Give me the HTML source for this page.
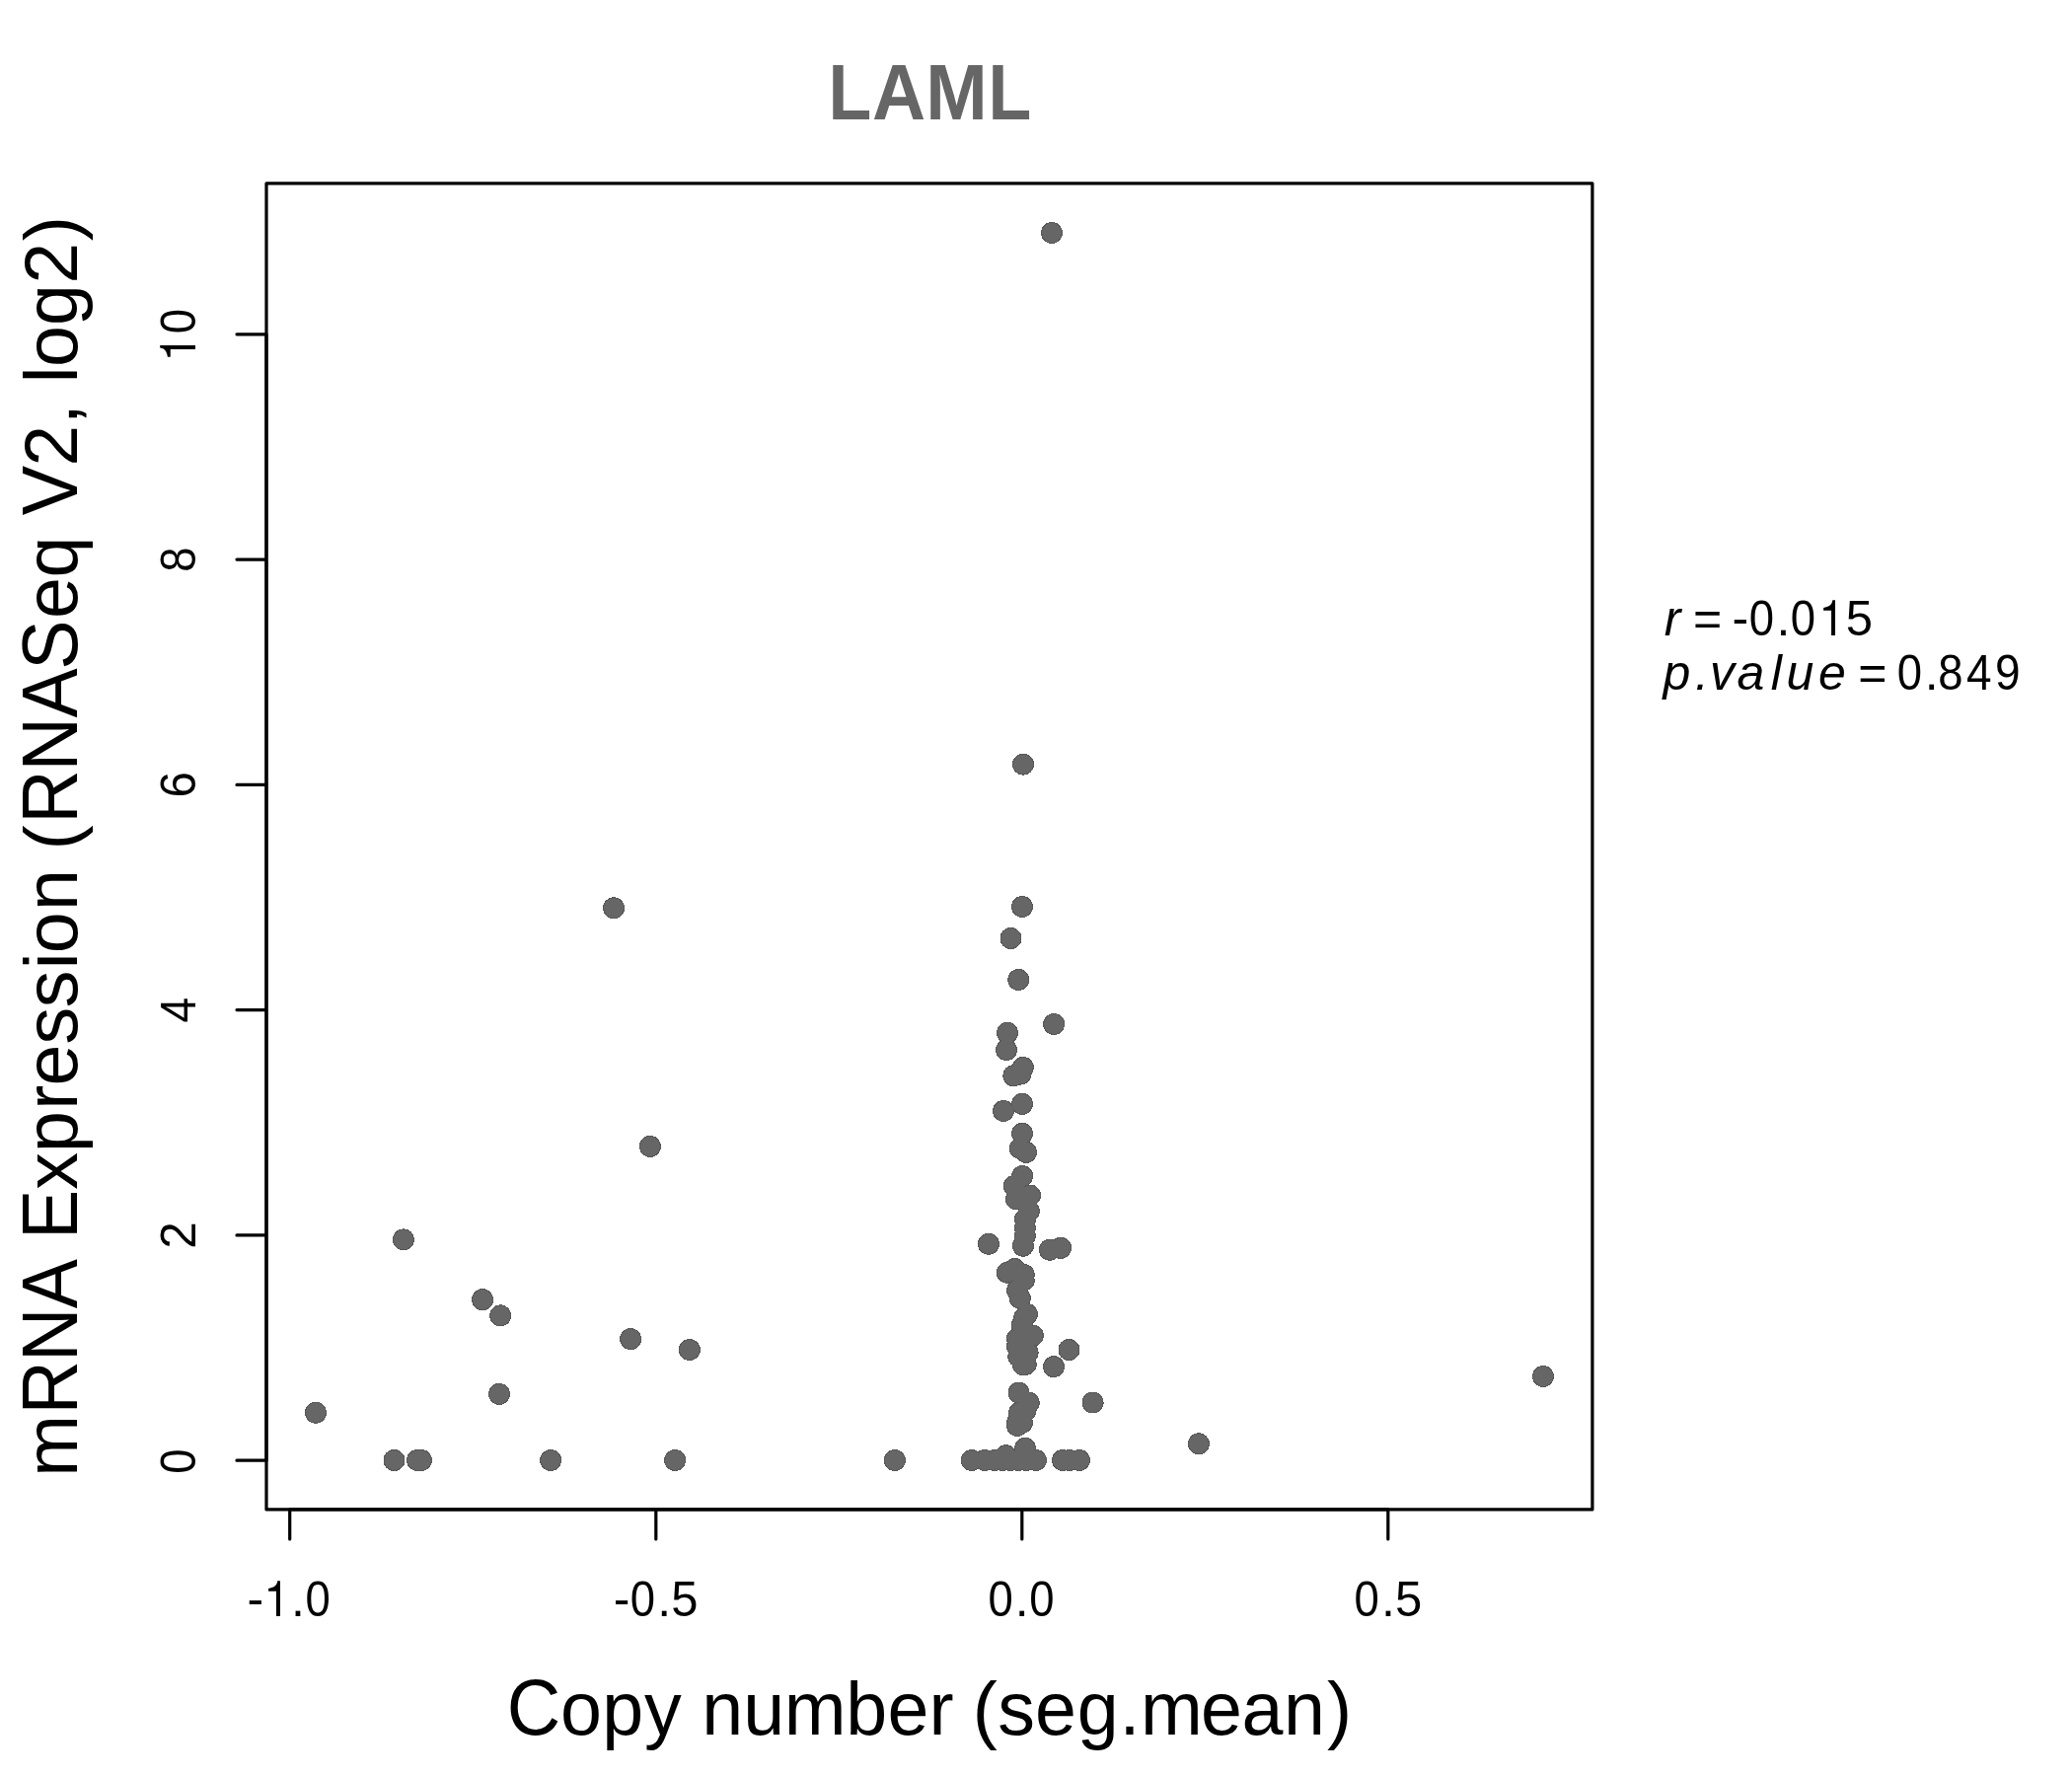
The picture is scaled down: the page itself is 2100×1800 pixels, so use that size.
<!DOCTYPE html><html><head><meta charset="utf-8"><title>LAML</title><style>html,body{margin:0;padding:0;background:#fff;overflow:hidden;}svg{display:block;will-change:transform;}text{font-family:"Liberation Sans", sans-serif;}</style></head><body>
<svg width="2100" height="1800" viewBox="0 0 2100 1800">
<rect x="0" y="0" width="2100" height="1800" fill="#fff"/>
<g fill="#595959" shape-rendering="crispEdges">
<circle cx="320.0" cy="1431.7" r="11.00"/>
<circle cx="408.9" cy="1256.4" r="11.00"/>
<circle cx="489.1" cy="1317.2" r="11.00"/>
<circle cx="507.2" cy="1333.4" r="11.00"/>
<circle cx="639.1" cy="1357.1" r="11.00"/>
<circle cx="698.9" cy="1368.0" r="11.00"/>
<circle cx="506.0" cy="1412.9" r="11.00"/>
<circle cx="399.5" cy="1480.0" r="11.00"/>
<circle cx="423.0" cy="1480.0" r="11.00"/>
<circle cx="427.0" cy="1480.0" r="11.00"/>
<circle cx="558.1" cy="1480.0" r="11.00"/>
<circle cx="684.1" cy="1480.0" r="11.00"/>
<circle cx="622.1" cy="920.3" r="11.00"/>
<circle cx="658.9" cy="1161.9" r="11.00"/>
<circle cx="1066.0" cy="236.0" r="11.00"/>
<circle cx="1037.0" cy="774.6" r="11.00"/>
<circle cx="1036.0" cy="919.0" r="11.00"/>
<circle cx="1024.5" cy="951.0" r="11.00"/>
<circle cx="1032.3" cy="993.0" r="11.00"/>
<circle cx="1068.1" cy="1038.0" r="11.00"/>
<circle cx="1021.0" cy="1046.8" r="11.00"/>
<circle cx="1020.0" cy="1064.1" r="11.00"/>
<circle cx="1036.8" cy="1081.9" r="11.00"/>
<circle cx="1027.3" cy="1090.2" r="11.00"/>
<circle cx="1036.0" cy="1118.9" r="11.00"/>
<circle cx="1017.0" cy="1126.0" r="11.00"/>
<circle cx="1036.0" cy="1148.9" r="11.00"/>
<circle cx="1033.8" cy="1163.8" r="11.00"/>
<circle cx="1040.0" cy="1167.9" r="11.00"/>
<circle cx="1036.1" cy="1192.0" r="11.00"/>
<circle cx="1027.9" cy="1202.0" r="11.00"/>
<circle cx="1044.0" cy="1211.5" r="11.00"/>
<circle cx="1029.9" cy="1215.4" r="11.00"/>
<circle cx="1042.8" cy="1227.6" r="11.00"/>
<circle cx="1038.9" cy="1235.9" r="11.00"/>
<circle cx="1038.9" cy="1244.6" r="11.00"/>
<circle cx="1038.9" cy="1252.5" r="11.00"/>
<circle cx="1036.9" cy="1262.7" r="11.00"/>
<circle cx="1001.9" cy="1260.8" r="11.00"/>
<circle cx="1063.8" cy="1266.7" r="11.00"/>
<circle cx="1075.1" cy="1264.9" r="11.00"/>
<circle cx="1020.8" cy="1289.7" r="11.00"/>
<circle cx="1028.5" cy="1286.0" r="11.00"/>
<circle cx="1037.7" cy="1291.9" r="11.00"/>
<circle cx="1037.7" cy="1297.6" r="11.00"/>
<circle cx="1031.0" cy="1307.8" r="11.00"/>
<circle cx="1033.8" cy="1315.7" r="11.00"/>
<circle cx="1041.0" cy="1332.0" r="11.00"/>
<circle cx="1038.0" cy="1336.0" r="11.00"/>
<circle cx="1035.8" cy="1343.3" r="11.00"/>
<circle cx="1046.8" cy="1353.6" r="11.00"/>
<circle cx="1031.0" cy="1356.7" r="11.00"/>
<circle cx="1031.0" cy="1364.6" r="11.00"/>
<circle cx="1041.6" cy="1370.9" r="11.00"/>
<circle cx="1032.3" cy="1374.8" r="11.00"/>
<circle cx="1039.7" cy="1382.7" r="11.00"/>
<circle cx="1036.8" cy="1383.3" r="11.00"/>
<circle cx="1083.5" cy="1368.0" r="11.00"/>
<circle cx="1068.0" cy="1385.1" r="11.00"/>
<circle cx="1032.6" cy="1411.7" r="11.00"/>
<circle cx="1042.7" cy="1421.8" r="11.00"/>
<circle cx="1039.0" cy="1430.5" r="11.00"/>
<circle cx="1031.0" cy="1442.0" r="11.00"/>
<circle cx="1033.0" cy="1432.0" r="11.00"/>
<circle cx="1034.4" cy="1088.6" r="11.00"/>
<circle cx="1036.0" cy="1442.0" r="11.00"/>
<circle cx="1031.0" cy="1445.0" r="11.00"/>
<circle cx="1039.0" cy="1467.8" r="11.00"/>
<circle cx="1019.5" cy="1475.2" r="11.00"/>
<circle cx="1107.6" cy="1421.5" r="11.00"/>
<circle cx="1214.9" cy="1463.3" r="11.00"/>
<circle cx="1564.0" cy="1395.0" r="11.00"/>
<circle cx="906.9" cy="1480.0" r="11.00"/>
<circle cx="984.8" cy="1480.0" r="11.00"/>
<circle cx="998.0" cy="1480.0" r="11.00"/>
<circle cx="1008.0" cy="1480.0" r="11.00"/>
<circle cx="1016.0" cy="1480.0" r="11.00"/>
<circle cx="1024.0" cy="1480.0" r="11.00"/>
<circle cx="1032.0" cy="1480.0" r="11.00"/>
<circle cx="1040.0" cy="1480.0" r="11.00"/>
<circle cx="1050.0" cy="1480.0" r="11.00"/>
<circle cx="1077.0" cy="1480.0" r="11.00"/>
<circle cx="1084.0" cy="1480.0" r="11.00"/>
<circle cx="1094.0" cy="1480.0" r="11.00"/>
</g>
<g fill="#666666" shape-rendering="crispEdges">
<circle cx="320.0" cy="1431.7" r="10.00"/>
<circle cx="408.9" cy="1256.4" r="10.00"/>
<circle cx="489.1" cy="1317.2" r="10.00"/>
<circle cx="507.2" cy="1333.4" r="10.00"/>
<circle cx="639.1" cy="1357.1" r="10.00"/>
<circle cx="698.9" cy="1368.0" r="10.00"/>
<circle cx="506.0" cy="1412.9" r="10.00"/>
<circle cx="399.5" cy="1480.0" r="10.00"/>
<circle cx="423.0" cy="1480.0" r="10.00"/>
<circle cx="427.0" cy="1480.0" r="10.00"/>
<circle cx="558.1" cy="1480.0" r="10.00"/>
<circle cx="684.1" cy="1480.0" r="10.00"/>
<circle cx="622.1" cy="920.3" r="10.00"/>
<circle cx="658.9" cy="1161.9" r="10.00"/>
<circle cx="1066.0" cy="236.0" r="10.00"/>
<circle cx="1037.0" cy="774.6" r="10.00"/>
<circle cx="1036.0" cy="919.0" r="10.00"/>
<circle cx="1024.5" cy="951.0" r="10.00"/>
<circle cx="1032.3" cy="993.0" r="10.00"/>
<circle cx="1068.1" cy="1038.0" r="10.00"/>
<circle cx="1021.0" cy="1046.8" r="10.00"/>
<circle cx="1020.0" cy="1064.1" r="10.00"/>
<circle cx="1036.8" cy="1081.9" r="10.00"/>
<circle cx="1027.3" cy="1090.2" r="10.00"/>
<circle cx="1036.0" cy="1118.9" r="10.00"/>
<circle cx="1017.0" cy="1126.0" r="10.00"/>
<circle cx="1036.0" cy="1148.9" r="10.00"/>
<circle cx="1033.8" cy="1163.8" r="10.00"/>
<circle cx="1040.0" cy="1167.9" r="10.00"/>
<circle cx="1036.1" cy="1192.0" r="10.00"/>
<circle cx="1027.9" cy="1202.0" r="10.00"/>
<circle cx="1044.0" cy="1211.5" r="10.00"/>
<circle cx="1029.9" cy="1215.4" r="10.00"/>
<circle cx="1042.8" cy="1227.6" r="10.00"/>
<circle cx="1038.9" cy="1235.9" r="10.00"/>
<circle cx="1038.9" cy="1244.6" r="10.00"/>
<circle cx="1038.9" cy="1252.5" r="10.00"/>
<circle cx="1036.9" cy="1262.7" r="10.00"/>
<circle cx="1001.9" cy="1260.8" r="10.00"/>
<circle cx="1063.8" cy="1266.7" r="10.00"/>
<circle cx="1075.1" cy="1264.9" r="10.00"/>
<circle cx="1020.8" cy="1289.7" r="10.00"/>
<circle cx="1028.5" cy="1286.0" r="10.00"/>
<circle cx="1037.7" cy="1291.9" r="10.00"/>
<circle cx="1037.7" cy="1297.6" r="10.00"/>
<circle cx="1031.0" cy="1307.8" r="10.00"/>
<circle cx="1033.8" cy="1315.7" r="10.00"/>
<circle cx="1041.0" cy="1332.0" r="10.00"/>
<circle cx="1038.0" cy="1336.0" r="10.00"/>
<circle cx="1035.8" cy="1343.3" r="10.00"/>
<circle cx="1046.8" cy="1353.6" r="10.00"/>
<circle cx="1031.0" cy="1356.7" r="10.00"/>
<circle cx="1031.0" cy="1364.6" r="10.00"/>
<circle cx="1041.6" cy="1370.9" r="10.00"/>
<circle cx="1032.3" cy="1374.8" r="10.00"/>
<circle cx="1039.7" cy="1382.7" r="10.00"/>
<circle cx="1036.8" cy="1383.3" r="10.00"/>
<circle cx="1083.5" cy="1368.0" r="10.00"/>
<circle cx="1068.0" cy="1385.1" r="10.00"/>
<circle cx="1032.6" cy="1411.7" r="10.00"/>
<circle cx="1042.7" cy="1421.8" r="10.00"/>
<circle cx="1039.0" cy="1430.5" r="10.00"/>
<circle cx="1031.0" cy="1442.0" r="10.00"/>
<circle cx="1033.0" cy="1432.0" r="10.00"/>
<circle cx="1034.4" cy="1088.6" r="10.00"/>
<circle cx="1036.0" cy="1442.0" r="10.00"/>
<circle cx="1031.0" cy="1445.0" r="10.00"/>
<circle cx="1039.0" cy="1467.8" r="10.00"/>
<circle cx="1019.5" cy="1475.2" r="10.00"/>
<circle cx="1107.6" cy="1421.5" r="10.00"/>
<circle cx="1214.9" cy="1463.3" r="10.00"/>
<circle cx="1564.0" cy="1395.0" r="10.00"/>
<circle cx="906.9" cy="1480.0" r="10.00"/>
<circle cx="984.8" cy="1480.0" r="10.00"/>
<circle cx="998.0" cy="1480.0" r="10.00"/>
<circle cx="1008.0" cy="1480.0" r="10.00"/>
<circle cx="1016.0" cy="1480.0" r="10.00"/>
<circle cx="1024.0" cy="1480.0" r="10.00"/>
<circle cx="1032.0" cy="1480.0" r="10.00"/>
<circle cx="1040.0" cy="1480.0" r="10.00"/>
<circle cx="1050.0" cy="1480.0" r="10.00"/>
<circle cx="1077.0" cy="1480.0" r="10.00"/>
<circle cx="1084.0" cy="1480.0" r="10.00"/>
<circle cx="1094.0" cy="1480.0" r="10.00"/>
</g>
<g stroke="#000" stroke-width="3.20" fill="none" stroke-linecap="round" stroke-linejoin="round">
<rect x="270.0" y="185.8" width="1343.9" height="1344.1"/>
<path d="M293.7 1529.9H1406.8 M293.7 1529.9V1559.9 M664.8 1529.9V1559.9 M1035.8 1529.9V1559.9 M1406.8 1529.9V1559.9"/>
<path d="M270.0 1480.2V338.8 M270.0 1480.2H240.0 M270.0 1251.9H240.0 M270.0 1023.6H240.0 M270.0 795.4H240.0 M270.0 567.1H240.0 M270.0 338.8H240.0"/>
</g>
<g font-size="50" fill="#000">
<g transform="translate(0 1638)"><text transform="translate(250.62 -0.70)">-</text><path transform="translate(267.27 0) scale(1.0000)" d="M12.72 0H16.66V-35.8H14C13.5 -33 12.8 -31.3 10.3 -29.8C8.6 -28.9 6.5 -28.3 4.8 -28.1V-25.3H12.72Z"/><text transform="translate(295.08 0)">.</text><text transform="translate(322.07 0) scale(0.910 1.012)" text-anchor="middle">0</text></g>
<g transform="translate(0 1638)"><text transform="translate(621.67 -0.70)">-</text><text transform="translate(651.43 0) scale(0.910 1.012)" text-anchor="middle">0</text><text transform="translate(666.13 0)">.</text><text transform="translate(693.92 0) scale(0.980 1.012)" text-anchor="middle">5</text></g>
<g transform="translate(0 1638)"><text transform="translate(1014.15 0) scale(0.910 1.012)" text-anchor="middle">0</text><text transform="translate(1028.85 0)">.</text><text transform="translate(1055.85 0) scale(0.910 1.012)" text-anchor="middle">0</text></g>
<g transform="translate(0 1638)"><text transform="translate(1385.20 0) scale(0.910 1.012)" text-anchor="middle">0</text><text transform="translate(1399.90 0)">.</text><text transform="translate(1427.70 0) scale(0.980 1.012)" text-anchor="middle">5</text></g>
<g transform="translate(198 0) rotate(-90)"><text transform="translate(-1481.00 0) scale(0.910 1.012)" text-anchor="middle">0</text></g>
<g transform="translate(198 0) rotate(-90)"><text transform="translate(-1251.92 0) scale(0.990 1.012)" text-anchor="middle">2</text></g>
<g transform="translate(198 0) rotate(-90)"><text transform="translate(-1023.64 0) scale(0.920 1.012)" text-anchor="middle">4</text></g>
<g transform="translate(198 0) rotate(-90)"><text transform="translate(-795.36 0) scale(0.950 1.012)" text-anchor="middle">6</text></g>
<g transform="translate(198 0) rotate(-90)"><text transform="translate(-567.08 0) scale(0.910 1.012)" text-anchor="middle">8</text></g>
<g transform="translate(198 0) rotate(-90)"><path transform="translate(-366.61 0) scale(1.0000)" d="M12.72 0H16.66V-35.8H14C13.5 -33 12.8 -31.3 10.3 -29.8C8.6 -28.9 6.5 -28.3 4.8 -28.1V-25.3H12.72Z"/><text transform="translate(-325.70 0) scale(0.910 1.012)" text-anchor="middle">0</text></g>
</g>
<g transform="translate(0 120.6)" font-size="75" font-weight="bold" fill="#666666"><text transform="translate(844.38 0) scale(0.955 1.065) translate(-5.02 0)">L</text><text transform="translate(883.98 0) scale(1.000 1.065) translate(-0.00 0)">A</text><text transform="translate(938.14 0) scale(1.000 1.065) translate(-0.00 0)">M</text><text transform="translate(1006.32 0) scale(0.955 1.065) translate(-5.02 0)">L</text></g>
<g transform="translate(0 1758.0)" font-size="75.4" fill="#000"><text transform="translate(513.85 0) scale(1 1.065)">C</text><text transform="translate(567.88 0)">o</text><text transform="translate(610.24 0)">p</text><text transform="translate(652.88 0)">y</text><text transform="translate(711.28 0)">n</text><text transform="translate(753.34 0)">u</text><text transform="translate(794.73 0)">m</text><text transform="translate(857.19 0)">b</text><text transform="translate(899.46 0)">e</text><text transform="translate(941.47 0)">r</text><text transform="translate(985.73 0)">(</text><text transform="translate(1011.31 0)">s</text><text transform="translate(1049.01 0)">e</text><text transform="translate(1091.73 0)">g</text><text transform="translate(1134.48 0)">.</text><text transform="translate(1156.03 0)">m</text><text transform="translate(1216.96 0)">e</text><text transform="translate(1258.48 0)">a</text><text transform="translate(1301.03 0)">n</text><text transform="translate(1345.11 0)">)</text></g>
<g transform="translate(77.9 0) rotate(-90)" font-size="75.4" fill="#000"><text transform="translate(-1496.77 0)">m</text><text transform="translate(-1433.57 0) scale(1 1.065)">R</text><text transform="translate(-1380.09 0) scale(1 1.065)">N</text><text transform="translate(-1326.30 0) scale(1 1.065)">A</text><text transform="translate(-1255.92 0) scale(1 1.065)">E</text><text transform="translate(-1205.67 0)">x</text><text transform="translate(-1168.01 0)">p</text><text transform="translate(-1124.73 0)">r</text><text transform="translate(-1100.59 0)">e</text><text transform="translate(-1058.49 0)">s</text><text transform="translate(-1021.14 0)">s</text><text transform="translate(-982.26 0)">i</text><text transform="translate(-966.17 0)">o</text><text transform="translate(-923.12 0)">n</text><text transform="translate(-861.47 0)">(</text><text transform="translate(-834.72 0) scale(1 1.065)">R</text><text transform="translate(-781.39 0) scale(1 1.065)">N</text><text transform="translate(-727.45 0) scale(1 1.065)">A</text><text transform="translate(-678.63 0) scale(1 1.065)">S</text><text transform="translate(-626.99 0)">e</text><text transform="translate(-585.54 0)">q</text><text transform="translate(-522.35 0) scale(1 1.065)">V</text><text transform="translate(-451.75 0) scale(0.990 1.012)" text-anchor="middle">2</text><text transform="translate(-430.22 0)">,</text><text transform="translate(-388.34 0)">l</text><text transform="translate(-372.02 0)">o</text><text transform="translate(-329.97 0)">g</text><text transform="translate(-266.80 0) scale(0.990 1.012)" text-anchor="middle">2</text><text transform="translate(-244.19 0)">)</text></g>
<g font-size="50" fill="#000">
<g transform="translate(0 644)"><text transform="translate(1686.80 0)" font-style="italic">r</text><text transform="translate(1716.00 0)">=</text><text transform="translate(1755.60 -0.70)">-</text><text transform="translate(1785.35 0) scale(0.910 1.012)" text-anchor="middle">0</text><text transform="translate(1800.55 0)">.</text><text transform="translate(1827.35 0) scale(0.910 1.012)" text-anchor="middle">0</text><path transform="translate(1843.34 0) scale(1.0000)" d="M12.72 0H16.66V-35.8H14C13.5 -33 12.8 -31.3 10.3 -29.8C8.6 -28.9 6.5 -28.3 4.8 -28.1V-25.3H12.72Z"/><text transform="translate(1884.30 0) scale(0.980 1.012)" text-anchor="middle">5</text></g>
<g transform="translate(0 699)"><text transform="translate(1685.50 0)" font-style="italic">p</text><text transform="translate(1718.10 0)" font-style="italic">.</text><text transform="translate(1733.10 0)" font-style="italic">v</text><text transform="translate(1760.60 0)" font-style="italic">a</text><text transform="translate(1794.70 0)" font-style="italic">l</text><text transform="translate(1810.50 0)" font-style="italic">u</text><text transform="translate(1842.90 0)" font-style="italic">e</text><text transform="translate(1883.20 0)">=</text><text transform="translate(1935.40 0) scale(0.910 1.012)" text-anchor="middle">0</text><text transform="translate(1950.65 0)">.</text><text transform="translate(1976.95 0) scale(0.910 1.012)" text-anchor="middle">8</text><text transform="translate(2005.90 0) scale(0.920 1.012)" text-anchor="middle">4</text><text transform="translate(2034.85 0) scale(0.920 1.012)" text-anchor="middle">9</text></g>
</g>
</svg></body></html>
